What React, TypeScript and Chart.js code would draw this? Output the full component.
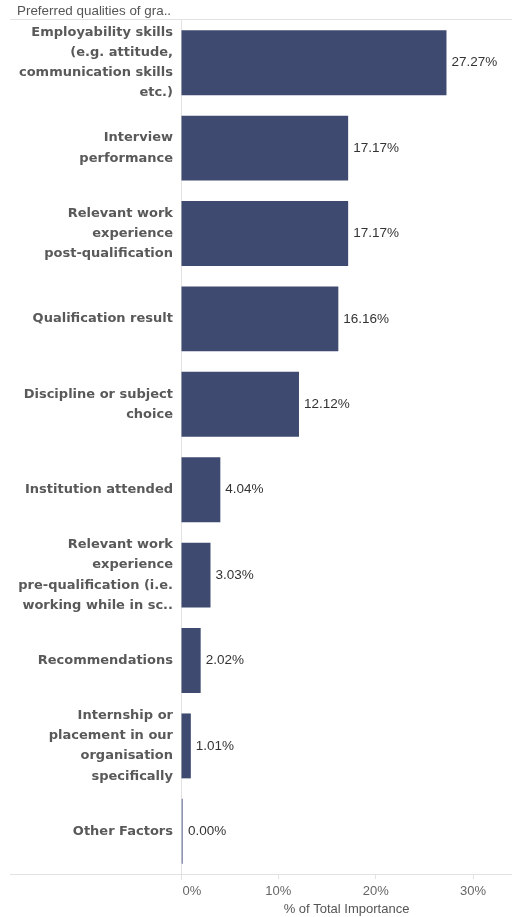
import React, { useEffect, useRef } from "react";
import { Chart, registerables } from "chart.js";

Chart.register(...registerables);

const HEADER = "Preferred qualities of gra..";
const CATEGORIES: (string | string[])[] = [
  ["Employability skills", "(e.g. attitude,", "communication skills", "etc.)"],
  ["Interview", "performance"],
  ["Relevant work", "experience", "post-qualification"],
  "Qualification result",
  ["Discipline or subject", "choice"],
  "Institution attended",
  ["Relevant work", "experience", "pre-qualification (i.e.", "working while in sc.."],
  "Recommendations",
  ["Internship or", "placement in our", "organisation", "specifically"],
  "Other Factors",
];
const VALUES = [27.27, 17.17, 17.17, 16.16, 12.12, 4.04, 3.03, 2.02, 1.01, 0.0];
const TICK_VALUES = [0, 10, 20, 30];
const TICK_LABELS = ["      0%", "10%", "20%", "30%"];
const AXIS_TITLE = "% of Total Importance";

const BAR = "#3e4a6f";
const LINE = "#e2e2e2";

const decor = {
  id: "decor",
  beforeDatasetsDraw(chart: any) {
    const { ctx, chartArea } = chart;
    ctx.save();
    ctx.font = '13.4px "Liberation Sans", Arial, sans-serif';
    ctx.fillStyle = "#555";
    ctx.textBaseline = "middle";
    ctx.textAlign = "left";
    ctx.fillText(HEADER, 17, 11);
    ctx.strokeStyle = LINE;
    ctx.lineWidth = 1;
    ctx.beginPath();
    ctx.moveTo(10, 19.5);
    ctx.lineTo(512, 19.5);
    ctx.moveTo(10, chartArea.bottom + 0.5);
    ctx.lineTo(512, chartArea.bottom + 0.5);
    ctx.moveTo(181.5, 19.5);
    ctx.lineTo(181.5, chartArea.bottom + 6);
    ctx.stroke();
    ctx.restore();
  },
  afterDatasetsDraw(chart: any) {
    const { ctx } = chart;
    const meta = chart.getDatasetMeta(0);
    ctx.save();
    ctx.font = '13.5px "Liberation Sans", Arial, sans-serif';
    ctx.fillStyle = "#333";
    ctx.textBaseline = "middle";
    ctx.textAlign = "left";
    meta.data.forEach((bar: any, i: number) => {
      const v = VALUES[i];
      ctx.fillText(v.toFixed(2) + "%", bar.x + 5, bar.y);
    });
    ctx.restore();
  },
};

export default function App() {
  const ref = useRef<HTMLCanvasElement>(null);
  useEffect(() => {
    document.body.style.margin = "0";
    const chart = new Chart(ref.current!, {
      type: "bar",
      data: {
        labels: CATEGORIES,
        datasets: [
          {
            data: VALUES,
            backgroundColor: (c: any) => (VALUES[c.dataIndex] === 0 ? "#8d96b2" : BAR),
            categoryPercentage: 1,
            barPercentage: 0.76,
            minBarLength: 2,
          },
        ],
      },
      options: {
        indexAxis: "y",
        responsive: false,
        animation: false,
        layout: { padding: { top: 20, left: 0, right: 0, bottom: 0 } },
        plugins: { legend: { display: false }, tooltip: { enabled: false }, title: { display: false } },
        scales: {
          x: {
            min: 0,
            max: 34,
            afterBuildTicks: (s: any) => {
              s.ticks = TICK_VALUES.map((v) => ({ value: v }));
            },
            afterFit: (s: any) => {
              s.height = 43;
              s.paddingLeft = 0;
              s.paddingRight = 0;
            },
            grid: { display: true, drawOnChartArea: false, drawTicks: true, tickLength: 5, color: LINE },
            border: { display: false },
            ticks: {
              padding: 5,
              color: "#666",
              font: { family: '"Liberation Sans", Arial, sans-serif', size: 13 },
              maxRotation: 0,
              autoSkip: false,
              callback: (_v: any, i: number) => TICK_LABELS[i],
            },
            title: {
              display: true,
              text: AXIS_TITLE,
              color: "#555",
              font: { family: '"Liberation Sans", Arial, sans-serif', size: 13 },
              padding: { top: 0, bottom: 0 },
            },
          },
          y: {
            afterFit: (s: any) => {
              s.width = 181;
              s.paddingTop = 0;
              s.paddingBottom = 0;
            },
            grid: { display: false, drawTicks: false },
            border: { display: false },
            ticks: {
              padding: 8,
              color: "#595959",
              autoSkip: false,
              font: { family: '"DejaVu Sans", sans-serif', size: 13, weight: "bold", lineHeight: 1.55 },
            },
          },
        },
      },
      plugins: [decor],
    });
    return () => chart.destroy();
  }, []);
  return (
    <div style={{ width: 512, height: 917 }}>
      <canvas ref={ref} width={512} height={917} />
    </div>
  );
}
